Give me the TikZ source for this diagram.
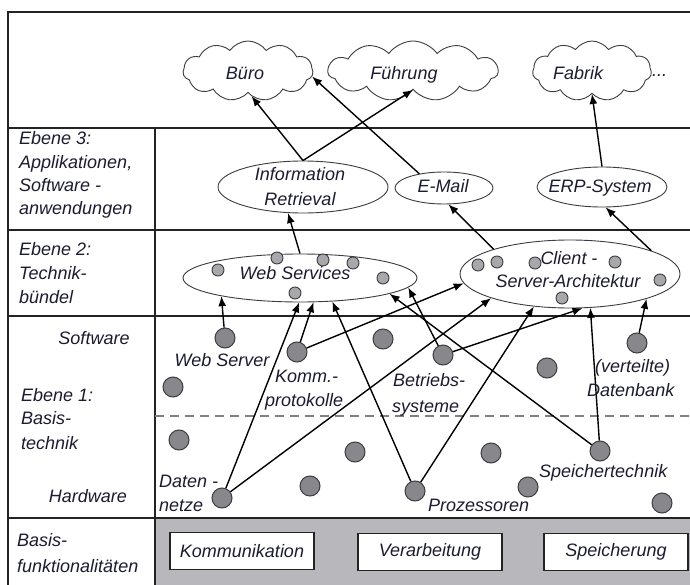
\documentclass[tikz,border=0pt]{standalone}
\usepackage{fontspec}
\setmainfont{Liberation Sans}
\usetikzlibrary{arrows.meta,shapes.geometric,shapes.symbols}
\definecolor{ink}{RGB}{28,28,48}
\definecolor{framecol}{RGB}{35,35,35}
\definecolor{basisgray}{RGB}{183,183,188}
\definecolor{dotfill}{RGB}{135,135,140}
\definecolor{dotline}{RGB}{60,60,65}
\definecolor{smallfill}{RGB}{168,168,172}
\definecolor{dashcol}{RGB}{128,128,128}
\newcommand{\lblfont}{\fontsize{18}{22}\selectfont\itshape}

\begin{document}
\begin{tikzpicture}[x=1pt,y=-1pt,
  tx/.style={inner sep=0pt, text height=13pt, text depth=4pt, font=\lblfont, text=ink},
  frameline/.style={draw=framecol, line width=1.6pt},
  bubble/.style={ellipse, draw=dotline, line width=0.9pt, inner sep=0pt},
  wolke/.style={cloud, cloud puffs=11, cloud puff arc=110, draw=dotline, line width=0.9pt, inner sep=0pt},
  bigdot/.style={circle, fill=dotfill, draw=dotline, line width=1pt, minimum size=20pt, inner sep=0pt},
  smalldot/.style={circle, fill=smallfill, draw=dotline, line width=0.9pt, minimum size=12pt, inner sep=0pt},
  funcbox/.style={draw=framecol, fill=white, line width=1.5pt, minimum width=144pt, minimum height=37pt, inner sep=0pt, font=\lblfont, text=ink},
  arr/.style={draw=black, line width=1.4pt, -{Latex[length=10pt,width=8pt]}}
]
\useasboundingbox (0,0) rectangle (690,585);
\clip (0,0) rectangle (690,585);
\fill[white] (0,0) rectangle (690,585);

% grey band of the base functions
\fill[basisgray] (155,518) rectangle (695,590);

% table frame
\draw[frameline] (8,590) -- (8,12) -- (695,12);
\foreach \yy in {128,230,316,518} \draw[frameline] (8,\yy) -- (695,\yy);
\draw[frameline] (155,128) -- (155,590);
\draw[dashcol, line width=2pt, dash pattern=on 9pt off 6pt] (155,416) -- (690,416);

% application areas
\node[wolke, minimum width=130pt, minimum height=60pt] (buero) at (248,71) {};
\node[wolke, minimum width=170pt, minimum height=60pt] (fuehrung) at (413,71) {};
\node[wolke, minimum width=119pt, minimum height=60pt] (fabrik) at (592,71) {};
\node[tx] (tbuero) at (245,75) {Büro};
\node[tx] (tfuehrung) at (404,75) {Führung};
\node[tx] (tfabrik) at (578,75) {Fabrik};
\node[tx, anchor=west] (tmore) at (652,72) {...};

% level 3: applications
\node[bubble, minimum width=170pt, minimum height=52pt] (ir) at (303,187) {};
\node[bubble, minimum width=98pt, minimum height=32pt] (email) at (444,188) {};
\node[bubble, minimum width=130pt, minimum height=40pt] (erp) at (602,187) {};
\node[tx] (tir1) at (300,176) {Information};
\node[tx] (tir2) at (300,201) {Retrieval};
\node[tx] (temail) at (443,188) {E-Mail};
\node[tx] (terp) at (600,188) {ERP-System};

% level 2: technology bundles
\node[bubble, minimum width=234pt, minimum height=48pt] (ws) at (300,278) {};
\node[bubble, minimum width=220pt, minimum height=68pt] (cs) at (570,274) {};
\node[tx] (tws) at (295,275) {Web Services};
\node[tx] (tcs1) at (569,260) {Client -};
\node[tx] (tcs2) at (568,283) {Server-Architektur};
\foreach \nm/\px/\py in {w1/218/270, w2/277/258, w3/323/260, w4/353/263, w5/383/278, w6/295/293,
                          c1/478/265, c2/497/262, c3/535/263, c4/615/262, c5/660/280, c6/562/298}
  \node[smalldot] (\nm) at (\px,\py) {};

% level 1: base technologies
\foreach \nm/\px/\py in {dws/225/338, dkomm/297/352, da/383/339, db/173/387, dbetr/443/355,
                          dc/547/368, ddb/637/343, dd/179/440, de/355/452, df/310/486,
                          dg/491/453, dspeich/600/451, dh/528/487, dnetz/222/498,
                          dproz/415/491, di/662/503}
  \node[bigdot] (\nm) at (\px,\py) {};

% connections between the levels
\draw[arr] (ir.north) -- (buero.-82);
\draw[arr] (ir.north) -- (fuehrung.south);
\draw[arr] (email.150) -- (buero.-5);
\draw[arr] (erp.north) -- (fabrik.south);
\draw[arr] (ws.north) -- (ir.240);
\draw[arr] (cs.162) -- (email.285);
\draw[arr] (cs.16) -- (erp.280);

\draw[arr] (dws) -- (ws.193);
\draw[arr] (dnetz) -- (ws.268);
\draw[arr] (dkomm) -- (ws.-61);
\draw[arr] (dproz) -- (ws.-36);
\draw[arr] (dspeich) -- (ws.-10);
\draw[arr] (dbetr) -- (ws.-5);

\draw[arr] (dkomm) -- (cs.185);
\draw[arr] (dnetz) -- (cs.197);
\draw[arr] (dproz) -- (cs.222);
\draw[arr] (dbetr) -- (cs.290);
\draw[arr] (dspeich) -- (cs.301);
\draw[arr] (ddb) -- (cs.342);

% labels of the base technologies
\node[tx] (tserver) at (222,362) {Web Server};
\node[tx, anchor=west] (tkomm1) at (275,378) {Komm.-};
\node[tx, anchor=west] (tkomm2) at (265,402) {protokolle};
\node[tx, anchor=west] (tbetr1) at (393,382) {Betriebs-};
\node[tx, anchor=west] (tbetr2) at (392,408) {systeme};
\node[tx, anchor=west] (tdb1) at (595,368) {(verteilte)};
\node[tx, anchor=west] (tdb2) at (587,392) {Datenbank};
\node[tx, anchor=west] (tnetz1) at (159,483) {Daten -};
\node[tx, anchor=west] (tnetz2) at (159,507) {netze};
\node[tx, anchor=west] (tproz) at (428,507) {Prozessoren};
\node[tx, anchor=west] (tspeich) at (539,473) {Speichertechnik};

% base functions
\node[funcbox] (komm) at (242,551) {Kommunikation};
\node[funcbox] (verarb) at (430,552) {Verarbeitung};
\node[funcbox] (speich) at (616,552) {Speicherung};

% row headings
\node[tx, anchor=west] (h3a) at (19,140) {Ebene 3:};
\node[tx, anchor=west] (h3b) at (19,164) {Applikationen,};
\node[tx, anchor=west] (h3c) at (19,187) {Software -};
\node[tx, anchor=west] (h3d) at (19,210) {anwendungen};
\node[tx, anchor=west] (h2a) at (19,251) {Ebene 2:};
\node[tx, anchor=west] (h2b) at (19,275) {Technik-};
\node[tx, anchor=west] (h2c) at (19,299) {bündel};
\node[tx] (hsoft) at (94,340) {Software};
\node[tx, anchor=west] (h1a) at (21,397) {Ebene 1:};
\node[tx, anchor=west] (h1b) at (21,420) {Basis-};
\node[tx, anchor=west] (h1c) at (21,445) {technik};
\node[tx] (hhard) at (88,498) {Hardware};
\node[tx, anchor=west] (h0a) at (17,542) {Basis-};
\node[tx, anchor=west] (h0b) at (17,568) {funktionalitäten};
\end{tikzpicture}
\end{document}
